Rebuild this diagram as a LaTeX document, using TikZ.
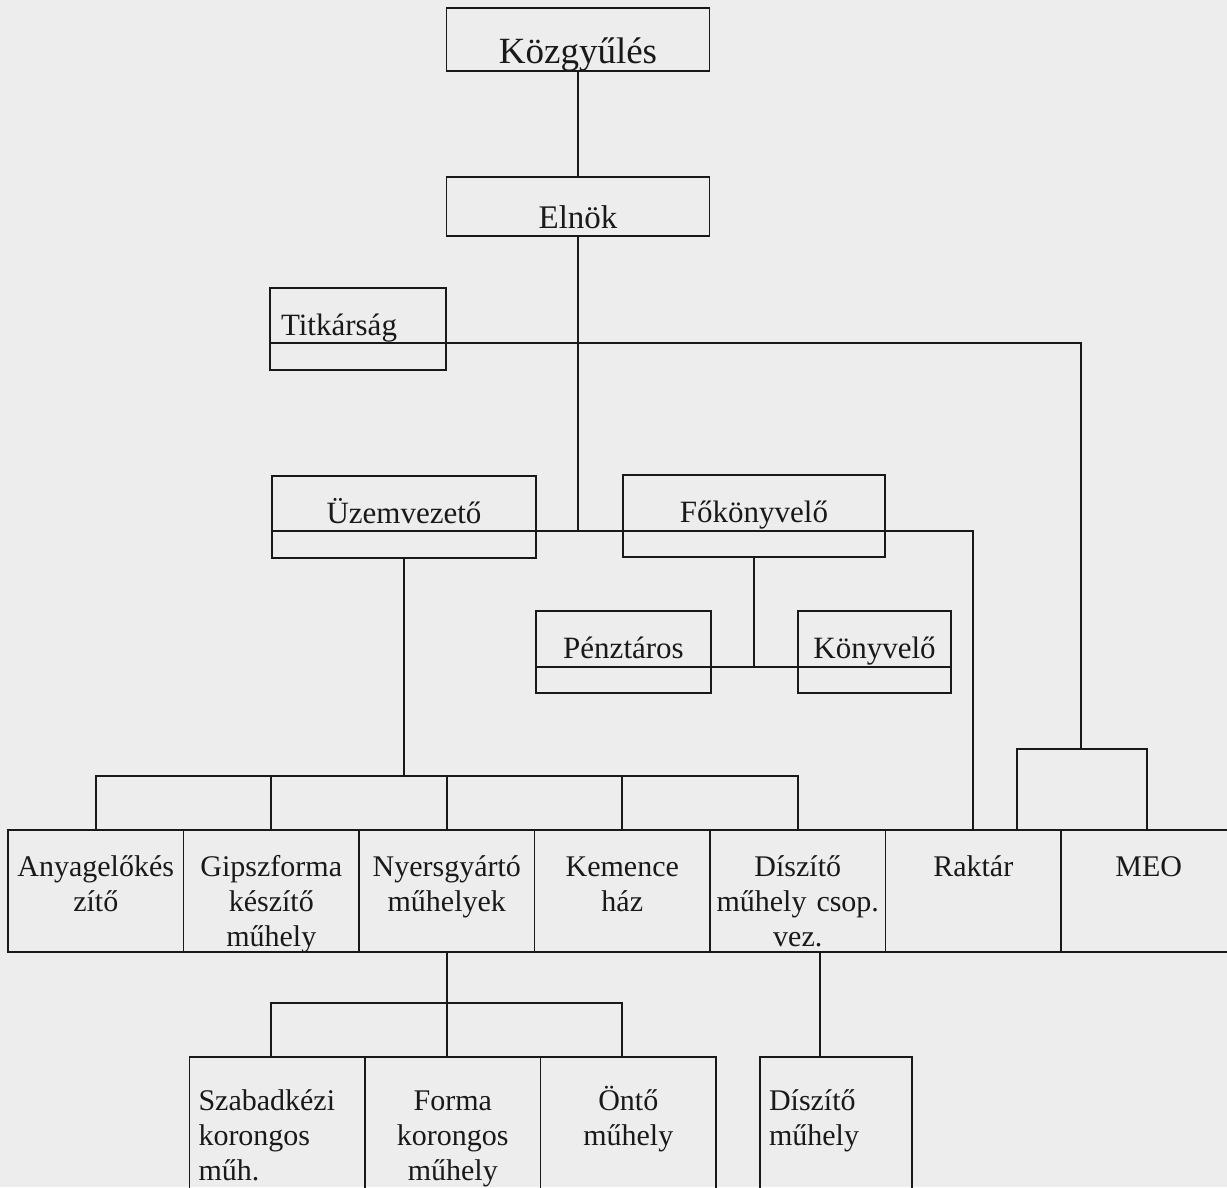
\documentclass[tikz,border=0pt]{standalone}
\usepackage{fontspec}
\setmainfont{Liberation Serif}
\usetikzlibrary{positioning}
\definecolor{ink}{RGB}{25,25,25}
\definecolor{paper}{RGB}{237,237,237}
\newcommand{\headfont}{\fontsize{37}{42}\selectfont}
\newcommand{\chieffont}{\fontsize{33}{38}\selectfont}
\newcommand{\midfont}{\fontsize{31}{35}\selectfont}
\newcommand{\cellfont}{\fontsize{30}{35}\selectfont}
\tikzset{%
  box/.style     = {shape=rectangle, draw=ink, text=ink, line width=1.8pt,%
                    inner sep=0pt, outer sep=0pt, align=center},%
  head/.style    = {box, anchor=north west, minimum width=263pt},%
  mid/.style     = {box, anchor=north west, font=\midfont,%
                    text height=47pt, text depth=35pt},%
  cell/.style    = {box, font=\cellfont, text width=163.5pt, inner xsep=6pt,%
                    text height=46pt, text depth=76pt},%
  subcell/.style = {cell, text height=53pt, text depth=97pt},%
  link/.style    = {draw=ink, line width=1.8pt}%
}
\begin{document}
\begin{tikzpicture}[x=1pt,y=-1pt]
	\useasboundingbox (0,0) rectangle (1227,1187);
	\fill[paper] (0,0) rectangle (1227,1187);
	\node[head, font=\headfont, text height=55pt, text depth=8pt] (kozgy) at (446.5,8) {Közgyűlés};
	\node[head, font=\chieffont, text height=51pt, text depth=8pt] (elnok) at (446.5,177) {Elnök};
	\node[mid, align=left, text width=154pt, inner xsep=11pt] (titk) at (270,288) {Titkárság};
	\node[mid, minimum width=264pt] (uzem) at (272,476) {Üzemvezető};
	\node[mid, minimum width=262pt] (fokony) at (623,475) {Főkönyvelő};
	\node[mid, minimum width=175pt] (penz) at (536,611) {Pénztáros};
	\node[mid, minimum width=153pt] (kony) at (798,611) {Könyvelő};
	\node[cell, anchor=north west] (anyag) at (8,830) {Anyagelőkés\\zítő};
	\node[cell, right=0pt of anyag] (gipsz) {Gipszforma\\készítő\\műhely};
	\node[cell, right=0pt of gipsz] (nyers) {Nyersgyártó\\műhelyek};
	\node[cell, right=0pt of nyers] (kemence) {Kemence\\ház};
	\node[cell, right=0pt of kemence] (diszcs) {Díszítő\\műhely csop.\\vez.};
	\node[cell, right=0pt of diszcs] (raktar) {Raktár};
	\node[cell, right=0pt of raktar] (meo) {MEO};
	\node[subcell, below=105pt of nyers, xshift=6pt] (forma) {Forma\\korongos\\műhely};
	\node[subcell, align=left, text width=157.5pt, inner xsep=9pt, left=0pt of forma] (szabad) {Szabadkézi\\korongos\\műh.};
	\node[subcell, right=0pt of forma] (onto) {Öntő\\műhely};
	\node[subcell, align=left, anchor=north west, text width=134pt, inner xsep=9pt] (diszm) at (760,1057) {Díszítő\\műhely};
	\coordinate (titk-d) at ([yshift=-55pt]titk.north west);
	\coordinate (uzem-d) at ([yshift=-55pt]uzem.north west);
	\coordinate (penz-d) at ([yshift=-56pt]penz.north west);
	\coordinate (kony-d) at ([yshift=-56pt]kony.north east);
	\coordinate (bus) at (0,776);
	\coordinate (bus2) at (0,1003);
	\coordinate (meo-l) at (1017,749);
	\coordinate (meo-c) at (1081,749);
	\coordinate (meo-r) at (1147,749);
	\draw[link] (kozgy) -- (elnok);
	\draw[link] (elnok.south) -- (elnok.south |- uzem-d);
	\draw[link] (titk-d) -| (meo-c);
	\draw[link] (raktar.north -| meo-l) |- (meo-r) -- (meo-r |- meo.north);
	\draw[link] (uzem-d) -| (raktar.north);
	\draw[link] (fokony.south) -- (fokony.south |- penz-d);
	\draw[link] (penz-d) -- (kony-d);
	\draw[link] (uzem.south) -- (uzem.south |- bus);
	\draw[link] (anyag.north) |- (diszcs.north |- bus) -- (diszcs.north);
	\foreach \c in {gipsz,nyers,kemence}
		\draw[link] (\c.north) -- (\c.north |- bus);
	\draw[link] (nyers.south) -- (nyers.south |- forma.north);
	\draw[link] (szabad.north -| gipsz.south) |- (kemence.south |- bus2) -- (kemence.south |- onto.north);
	\draw[link] ([xshift=-16pt]diszm.north) -- ([xshift=-16pt]diszm.north |- diszcs.south);
\end{tikzpicture}
\end{document}
